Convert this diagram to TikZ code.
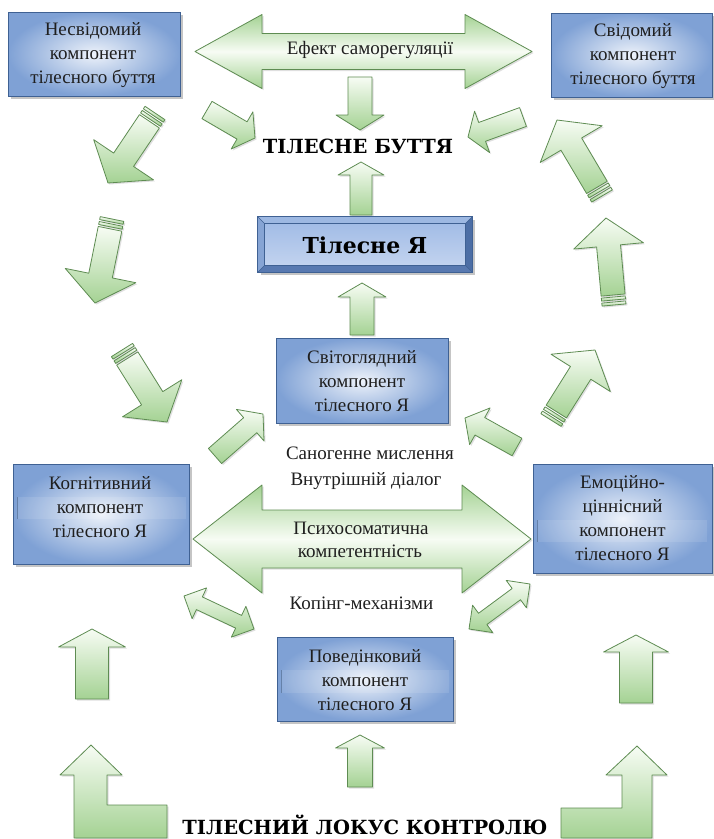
\documentclass[tikz,border=0pt]{standalone}
\usepackage{fontspec}
\IfFontExistsTF{LiberationSerif-Regular.ttf}
  {\setmainfont{LiberationSerif}[Extension=.ttf,UprightFont=*-Regular,BoldFont=*-Bold,ItalicFont=*-Italic,BoldItalicFont=*-BoldItalic]}
  {\setmainfont{DejaVu Serif}}
\newfontfamily\bserif{DejaVu Serif}
\usetikzlibrary{calc,shadows}
\definecolor{agreen}{HTML}{A4D293}
\definecolor{alight}{HTML}{F7FCF4}
\definecolor{aline}{HTML}{5E8C52}
\definecolor{bblue}{HTML}{7FA1D5}
\definecolor{blight}{HTML}{EDF2FA}
\definecolor{bline}{HTML}{3F6193}
\definecolor{bevtop}{HTML}{9DB8E2}
\definecolor{bevleft}{HTML}{86A4D4}
\definecolor{bevright}{HTML}{4C6EA5}
\definecolor{bevbot}{HTML}{5879B0}
\definecolor{facetop}{HTML}{A2BCE6}
\definecolor{facebot}{HTML}{C2D3EF}
\tikzset{
  arr/.style={draw=aline, line width=0.8pt, line join=round, top color=alight, bottom color=agreen,
    drop shadow={opacity=0.25, shadow xshift=1.5pt, shadow yshift=-1.5pt}},
  harr/.style={draw=aline, line width=0.8pt, line join=round, top color=agreen, bottom color=agreen, middle color=alight,
    drop shadow={opacity=0.25, shadow xshift=1.5pt, shadow yshift=-1.5pt}},
  box/.style={draw=bline, line width=0.8pt, inner color=blight, outer color=bblue,
    drop shadow={opacity=0.45, shadow xshift=2.5pt, shadow yshift=-2.5pt}},
  btxt/.style={font=\fontsize{19}{24}\selectfont, align=center, text=black!88},
  ltxt/.style={font=\fontsize{19}{22}\selectfont, text=black!88},
  bigtxt/.style={font=\bserif\bfseries\fontsize{19.5}{22}\selectfont, text=black, inner sep=0pt},
  artline/.style={draw=bline!80, line width=0.8pt},
}
% single block arrow: tail, tip, shaft half, head half, head length, style
\newcommand\sarrow[6]{%
  \coordinate (hb) at ($(#2)!#5pt!(#1)$);
  \draw[#6] ($(#1)!#3pt!90:(#2)$) -- ($(hb)!#3pt!90:(#2)$) -- ($(hb)!#4pt!90:(#2)$) -- (#2)
    -- ($(hb)!#4pt!-90:(#2)$) -- ($(hb)!#3pt!-90:(#2)$) -- ($(#1)!#3pt!-90:(#2)$) -- cycle;}
% striped block arrow: tail, tip, shaft half, head half, head length
\newcommand\stripearrow[5]{%
  \coordinate (s0) at ($(#1)!10pt!(#2)$);
  \sarrow{s0}{#2}{#3}{#4}{#5}{arr}
  \foreach \a/\b in {0/3,5/8}{%
    \coordinate (sa) at ($(#1)!\a pt!(#2)$);
    \coordinate (sb) at ($(#1)!\b pt!(#2)$);
    \draw[arr] ($(sa)!#3pt!90:(#2)$) -- ($(sb)!#3pt!90:(#2)$) -- ($(sb)!#3pt!-90:(#2)$) -- ($(sa)!#3pt!-90:(#2)$) -- cycle;}}
% double block arrow: tip1, tip2, shaft half, head half, head length, style
\newcommand\darrow[6]{%
  \coordinate (h1) at ($(#1)!#5pt!(#2)$);
  \coordinate (h2) at ($(#2)!#5pt!(#1)$);
  \draw[#6] (#1) -- ($(h1)!#4pt!90:(#2)$) -- ($(h1)!#3pt!90:(#2)$) -- ($(h2)!#3pt!90:(#2)$)
    -- ($(h2)!#4pt!90:(#2)$) -- (#2) -- ($(h2)!#4pt!-90:(#2)$) -- ($(h2)!#3pt!-90:(#2)$)
    -- ($(h1)!#3pt!-90:(#2)$) -- ($(h1)!#4pt!-90:(#2)$) -- cycle;}
\begin{document}
\begin{tikzpicture}[x=1pt,y=-1pt]
\useasboundingbox (0,0) rectangle (714,839);
\fill[white] (0,0) rectangle (714,839);

% ---------- coordinates of arrows ----------
\coordinate (top1) at (195,51.5);   \coordinate (top2) at (532,51.5);
\coordinate (mid1) at (193,539);    \coordinate (mid2) at (531,539);
\coordinate (c1t) at (360,77);  \coordinate (c1h) at (360,130);
\coordinate (c2t) at (361,215); \coordinate (c2h) at (361,162);
\coordinate (c3t) at (362,335); \coordinate (c3h) at (362,283);
\coordinate (c4t) at (360,787); \coordinate (c4h) at (360,735);
\coordinate (l1t) at (155,113); \coordinate (l1h) at (108,183);
\coordinate (l2t) at (112,219); \coordinate (l2h) at (95,303);
\coordinate (l3t) at (122,350); \coordinate (l3h) at (167,422);
\coordinate (r1t) at (602,196); \coordinate (r1h) at (557,120);
\coordinate (r2t) at (614,305); \coordinate (r2h) at (606,218);
\coordinate (r3t) at (551,420); \coordinate (r3h) at (595,350);
\coordinate (s1t) at (207,110); \coordinate (s1h) at (255,138);
\coordinate (s2t) at (523,117); \coordinate (s2h) at (468,137);
\coordinate (s3t) at (215,456); \coordinate (s3h) at (263,414);
\coordinate (s4t) at (517,447); \coordinate (s4h) at (465,418);
\coordinate (d1a) at (184,596); \coordinate (d1b) at (254,629);
\coordinate (d2a) at (530,584); \coordinate (d2b) at (469,629);
\coordinate (b1t) at (92,699);  \coordinate (b1h) at (92,629);
\coordinate (b2t) at (636,703); \coordinate (b2h) at (636,635);

% ---------- big double arrows ----------
\darrow{top1}{top2}{18}{37}{67}{harr}
\darrow{mid1}{mid2}{29}{54}{69}{harr}

% ---------- centre column ----------
\sarrow{c1t}{c1h}{12}{24}{15}{arr}
\sarrow{c2t}{c2h}{11}{23}{13}{arr}
\sarrow{c3t}{c3h}{12}{24}{14}{arr}
\sarrow{c4t}{c4h}{12.5}{24.5}{13}{arr}

% ---------- striped diagonal arrows ----------
\stripearrow{l1t}{l1h}{12}{36}{28}
\stripearrow{l2t}{l2h}{12}{36}{28}
\stripearrow{l3t}{l3h}{12.5}{35}{28}
\stripearrow{r1t}{r1h}{12}{36}{28}
\stripearrow{r2t}{r2h}{12}{35}{28}
\stripearrow{r3t}{r3h}{12}{35}{27}

% ---------- small arrows ----------
\sarrow{s1t}{s1h}{10}{21.5}{15}{arr}
\sarrow{s2t}{s2h}{10}{22}{15}{arr}
\sarrow{s3t}{s3h}{10}{21}{17}{arr}
\sarrow{s4t}{s4h}{10}{21}{17}{arr}
\darrow{d1a}{d1b}{7}{17}{17}{arr}
\darrow{d2a}{d2b}{7}{17}{17}{arr}

% ---------- lower column arrows ----------
\sarrow{b1t}{b1h}{16.5}{33.5}{18}{arr}
\sarrow{b2t}{b2h}{16.5}{32.5}{17}{arr}
\draw[arr] (74,838) -- (74,775) -- (60,775) -- (91,745) -- (122,775) -- (107,775) -- (107,805) -- (167,805) -- (167,838) -- cycle;
\draw[arr] (652,838) -- (652,775) -- (667,775) -- (637,746) -- (606,775) -- (622,775) -- (622,808) -- (561,808) -- (561,838) -- cycle;

% ---------- boxes ----------
\node[box, minimum width=172pt, minimum height=84pt] (nesv) at (94,54) {};
\node[btxt] (nesvT) at (93,55.5) {Несвідомий\\компонент\\тілесного буття};
\node[box, minimum width=161pt, minimum height=84pt] (svid) at (631.5,55) {};
\node[btxt] (svidT) at (633,56.5) {Свідомий\\компонент\\тілесного буття};
\node[box, minimum width=172pt, minimum height=85pt] (svit) at (362,380.5) {};
\node[btxt] (svitT) at (362,381) {Світоглядний\\компонент\\тілесного Я};
\node[box, minimum width=176pt, minimum height=100pt] (kog) at (101,514) {};
\fill[white, opacity=0.1] (17,497) rectangle (186,519);
\draw[artline] (17,497) -- (17,519);
\node[btxt] (kogT) at (100,507) {Когнітивний\\компонент\\тілесного Я};
\node[box, minimum width=179pt, minimum height=109pt] (emo) at (622.5,518.5) {};
\fill[white, opacity=0.1] (537,520) rectangle (707,542);
\draw[artline] (537,520) -- (537,542);
\node[btxt] (emoT) at (622.5,518.5) {Емоційно-\\ціннісний\\компонент\\тілесного Я};
\node[box, minimum width=176pt, minimum height=84pt] (pov) at (365,679) {};
\fill[white, opacity=0.1] (281,670) rectangle (449,693);
\draw[artline] (281,670) -- (281,693);
\node[btxt] (povT) at (365,680) {Поведінковий\\компонент\\тілесного Я};

% ---------- bevelled box ----------
\node[draw=bline, line width=0.8pt, fill=bblue, minimum width=214pt, minimum height=55pt,
  drop shadow={opacity=0.45, shadow xshift=2.5pt, shadow yshift=-2.5pt}] (tilja) at (365,244.5) {};
\coordinate (inw) at ($(tilja.north west)+(7,7)$);
\coordinate (ine) at ($(tilja.north east)+(-7,7)$);
\coordinate (ise) at ($(tilja.south east)+(-7,-7)$);
\coordinate (isw) at ($(tilja.south west)+(7,-7)$);
\fill[bevtop] (tilja.north west) -- (tilja.north east) -- (ine) -- (inw) -- cycle;
\fill[bevleft] (tilja.north west) -- (inw) -- (isw) -- (tilja.south west) -- cycle;
\fill[bevright] (tilja.north east) -- (tilja.south east) -- (ise) -- (ine) -- cycle;
\fill[bevbot] (tilja.south west) -- (tilja.south east) -- (ise) -- (isw) -- cycle;
\draw[bline, line width=0.6pt, top color=facetop, bottom color=facebot] (inw) rectangle (ise);
\draw[bline, line width=0.5pt] (tilja.north west) -- (inw) (tilja.north east) -- (ine) (tilja.south east) -- (ise) (tilja.south west) -- (isw);
\draw[bline, line width=0.8pt] (tilja.north west) rectangle (tilja.south east);
\node[font=\bserif\bfseries\fontsize{22}{26}\selectfont] (tiljaT) at (365,245) {Тілесне Я};

% ---------- free texts ----------
\node[ltxt] (efekt) at (370,50) {Ефект саморегуляції};
\node[bigtxt] (buttia) at (358,146) {ТІЛЕСНЕ БУТТЯ};
\node[ltxt] (sanog) at (370,453) {Саногенне мислення};
\node[ltxt] (vnutr) at (366,481) {Внутрішній діалог};
\node[ltxt] (psych) at (361,528) {Психосоматична};
\node[ltxt] (komp) at (360,551) {компетентність};
\node[ltxt] (koping) at (361.5,603) {Копінг-механізми};
\node[bigtxt] (lokus) at (365,825) {ТІЛЕСНИЙ ЛОКУС КОНТРОЛЮ};
\end{tikzpicture}
\end{document}
